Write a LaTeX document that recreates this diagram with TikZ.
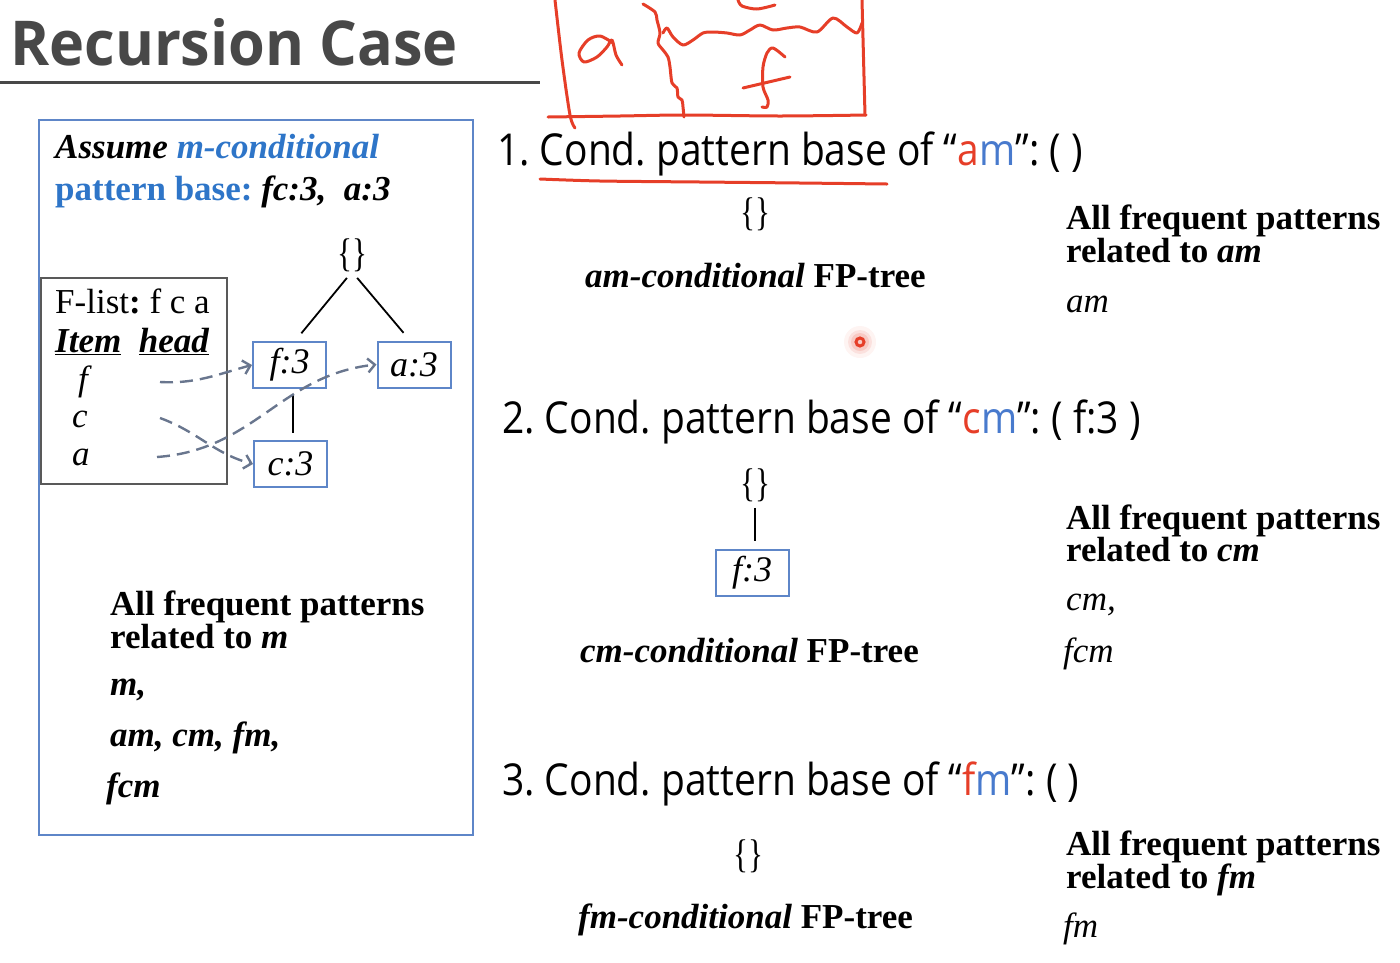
\documentclass[tikz,border=0pt]{standalone}
\usepackage{fontspec}
\setmainfont{Liberation Serif}
\newfontfamily\hdfont{Open Sans}
\usepackage{tikz}
\usetikzlibrary{positioning,arrows.meta}
\usepackage{xcolor}
\usepackage{graphicx}
\frenchspacing

\definecolor{boxblue}{RGB}{94,134,200}
\definecolor{textblue}{RGB}{46,117,200}
\definecolor{inkred}{RGB}{230,62,40}
\definecolor{linkgray}{RGB}{105,118,142}
\definecolor{titlegray}{RGB}{72,72,72}
\definecolor{mblue}{RGB}{72,122,205}

\newcommand{\hd}[1]{{\hdfont\fontsize{44}{44}\selectfont\scalebox{0.885}[1]{#1}}}
\newcommand{\nullroot}{\scalebox{0.78}[1]{\{\}}}

\begin{document}
\begin{tikzpicture}[x=1pt,y=-1pt,
    txt/.style={anchor=base west,inner sep=0pt,font=\fontsize{35}{35}\selectfont},
    fpbox/.style={draw=boxblue,line width=2pt,minimum width=73pt,minimum height=46pt,inner sep=0pt,font=\fontsize{36}{36}\selectfont\itshape},
    root/.style={inner sep=0pt,font=\fontsize{40}{40}\selectfont},
    edge/.style={line width=1.8pt},
    hlink/.style={linkgray,line width=2.4pt,dash pattern=on 13pt off 7pt,-{Straight Barb[length=7pt,width=14pt]}},
    scribble/.style={inkred,line width=3pt,line cap=round,line join=round},
]
\useasboundingbox (0,0) rectangle (1400,962);

% Title
\node[anchor=base west,inner sep=0pt,text=titlegray] (title) at (10,65)
  {\resizebox{448pt}{47pt}{\hdfont\bfseries Recursion Case}};
\draw[titlegray,line width=3pt] (0,82) -- (540,82);

% Left panel: m-conditional FP-tree
\node[draw=boxblue,line width=2pt,minimum width=434pt,minimum height=715pt] (mpanel) at (256,477.5) {};
\node[txt] (assume) at (55,158) {\bfseries\itshape Assume \textcolor{textblue}{m-conditional}};
\node[txt] (mbase)  at (55,200) {\bfseries\textcolor{textblue}{pattern base:} \itshape fc:3,\ \ a:3};

\node[draw=black!65,line width=2pt,minimum width=186pt,minimum height=206pt] (flist) at (134,381) {};
\node[txt] (fltitle) at (55,313) {F-list\textbf{:} f c a};
\node[txt] (flhead)  at (55,352) {\bfseries\itshape\underline{Item}\ \ \underline{head}};
\node[txt] (itf) at (78,390) {\itshape f};
\node[txt] (itc) at (72,427) {\itshape c};
\node[txt] (ita) at (72,465) {\itshape a};

\node[root]  (mroot) at (352,255) {\nullroot};
\node[fpbox] (mf3)   at (289.5,365) {f:3};
\node[fpbox] (ma3)   at (414,364.5) {a:3};
\node[fpbox] (mc3)   at (290.5,464) {c:3};
\draw[edge,shorten <=8pt,shorten >=10pt] (mroot.south) -- (mf3.north -| 295,0);
\draw[edge,shorten <=8pt,shorten >=10pt] (mroot.south) -- (ma3.north -| 410,0);
\draw[edge,shorten <=5pt,shorten >=7pt] (mf3.south -| 293,0) -- (mc3.north -| 293,0);

% header table links
\coordinate (hf) at (160,382);
\coordinate (hc) at (160,418);
\coordinate (ha) at (157,457);
\draw[hlink] (hf) to[out=-3,in=195] (mf3.west);
\draw[hlink] (hc) to[out=-20,in=165] (mc3.west);
\draw[hlink] (ha) .. controls (255,450) and (280,375) .. (ma3.west);

\node[txt] (mall) at (110,615) {\bfseries All frequent patterns};
\node[txt] (mrel) at (110,648) {\bfseries related to \itshape m};
\node[txt] (mp1)  at (110,695) {\bfseries\itshape m,};
\node[txt] (mp2)  at (110,746) {\bfseries\itshape am, cm, fm,};
\node[txt] (mp3)  at (106,797) {\bfseries\itshape fcm};

% 1. am
\node[txt] (head1) at (497,165) {\hd{1. Cond. pattern base of “\textcolor{inkred}{a}\textcolor{mblue}{m}”: ( )}};
\node[root] (amroot) at (755,214) {\nullroot};
\node[txt] (amcap) at (585,287) {\bfseries\itshape am-conditional \upshape FP-tree};
\node[txt] (amall) at (1066,229) {\bfseries All frequent patterns};
\node[txt] (amrel) at (1066,262) {\bfseries related to \itshape am};
\node[txt] (amp)   at (1066,312) {\itshape am};

% 2. cm
\node[txt] (head2) at (502,433) {\hd{2. Cond. pattern base of “\textcolor{inkred}{c}\textcolor{mblue}{m}”: ( f:3 )}};
\node[root]  (cmroot) at (755,485) {\nullroot};
\node[fpbox] (cmf3)   at (752,573) {f:3};
\draw[edge,shorten <=6pt,shorten >=8pt] (cmroot.south -| 755,0) -- (cmf3.north -| 755,0);
\node[txt] (cmcap) at (580,662) {\bfseries\itshape cm-conditional \upshape FP-tree};
\node[txt] (cmall) at (1066,529) {\bfseries All frequent patterns};
\node[txt] (cmrel) at (1066,561) {\bfseries related to \itshape cm};
\node[txt] (cmp1)  at (1066,610) {\itshape cm,};
\node[txt] (cmp2)  at (1063,662) {\itshape fcm};

% 3. fm
\node[txt] (head3) at (502,795) {\hd{3. Cond. pattern base of “\textcolor{inkred}{f}\textcolor{mblue}{m}”: ( )}};
\node[root] (fmroot) at (748,856) {\nullroot};
\node[txt] (fmcap) at (578,928) {\bfseries\itshape fm-conditional \upshape FP-tree};
\node[txt] (fmall) at (1066,855) {\bfseries All frequent patterns};
\node[txt] (fmrel) at (1066,888) {\bfseries related to \itshape fm};
\node[txt] (fmp)   at (1063,937) {\itshape fm};

% Red pen marks
\draw[scribble] plot[smooth] coordinates {(555,0) (562,60) (570,115) (575,128)};
\draw[scribble] plot[smooth] coordinates {(548,117) (620,116) (685,115) (780,116) (866,115)};
\draw[scribble] (862,0) -- (865,115);
\draw[scribble] plot[smooth] coordinates {(643,4) (655,12) (657,20) (660,33) (658,43) (663,50) (668,57) (670,67) (672,83) (677,88) (678,97) (682,100) (683,107) (684,117)};
\draw[scribble] plot[smooth] coordinates {(663,33) (667,28) (673,37) (683,45) (693,40) (703,33) (713,32) (727,33) (740,35) (750,30) (760,25) (773,30) (787,28) (800,27) (817,32) (833,18) (847,27) (857,33) (862,23)};
\draw[scribble] plot[smooth] coordinates {(738,0) (742,6) (757,9) (775,5)};
\draw[scribble] plot[smooth] coordinates {(613,43) (600,36) (588,40) (579,53) (584,62) (597,57) (607,47) (612,40) (616,55) (622,65)};
\draw[scribble] plot[smooth] coordinates {(785,57) (773,48) (767,53) (763,67) (763,87) (768,100) (767,107) (762,107)};
\draw[scribble] (743,88) -- (790,77);
\draw[scribble] plot[smooth] coordinates {(540,179) (600,181) (700,182) (800,183) (887,184)};
\foreach \r/\o in {16/0.06,12/0.1,9/0.15}
  \fill[inkred,opacity=\o] (860,342) circle (\r);
\draw[inkred,line width=3pt] (860,342) circle (4);
\end{tikzpicture}
\end{document}
